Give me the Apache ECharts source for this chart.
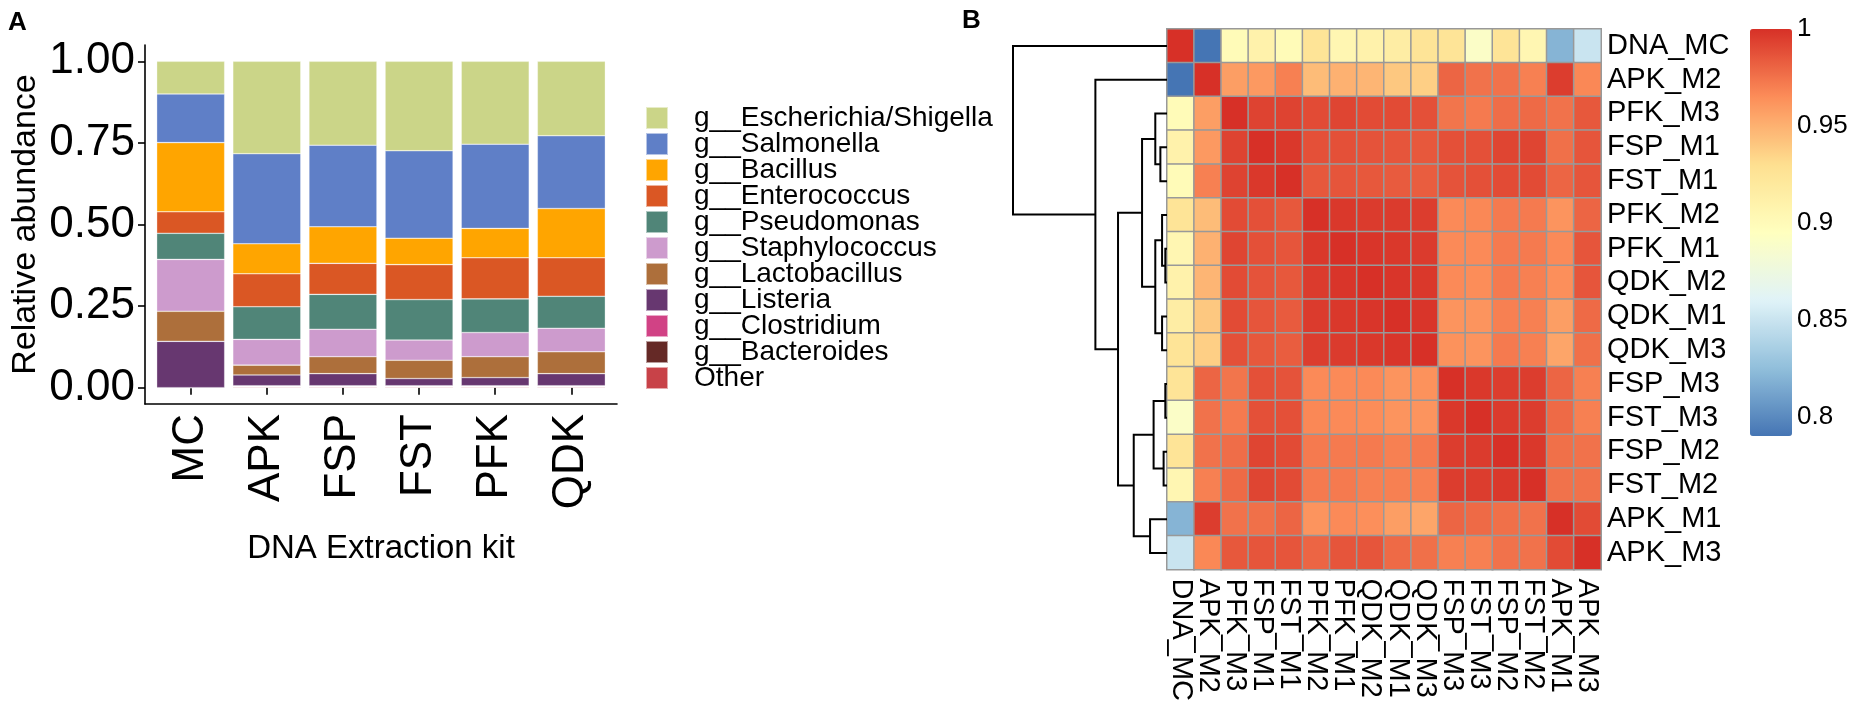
<!DOCTYPE html>
<html><head><meta charset="utf-8">
<script src="https://cdn.jsdelivr.net/npm/echarts@6/dist/echarts.min.js"></script>
<style>html,body{margin:0;padding:0;background:#fff}#c{width:1851px;height:704px}</style>
</head><body><div id="c"></div>
<script>
// ---------- Panel A data ----------
const kits = ['MC', 'APK', 'FSP', 'FST', 'PFK', 'QDK'];
const genera = ['g__Escherichia/Shigella', 'g__Salmonella', 'g__Bacillus', 'g__Enterococcus', 'g__Pseudomonas',
  'g__Staphylococcus', 'g__Lactobacillus', 'g__Listeria', 'g__Clostridium', 'g__Bacteroides', 'Other'];
const generaColors = ['#CBD588', '#5F7FC7', '#FFA500', '#DA5724', '#508578', '#CD9BCD', '#AD6F3B', '#673770', '#D14285', '#652926', '#C84248'];
const escherichia = [0.100, 0.283, 0.257, 0.274, 0.254, 0.228];
const salmonella = [0.149, 0.276, 0.250, 0.268, 0.258, 0.223];
const bacillus = [0.212, 0.092, 0.112, 0.081, 0.090, 0.151];
const enterococcus = [0.066, 0.101, 0.095, 0.107, 0.126, 0.118];
const pseudomonas = [0.080, 0.100, 0.107, 0.124, 0.103, 0.098];
const staphylococcus = [0.159, 0.079, 0.084, 0.062, 0.074, 0.072];
const lactobacillus = [0.092, 0.030, 0.052, 0.056, 0.064, 0.067];
const listeria = [0.142, 0.033, 0.037, 0.022, 0.025, 0.037];
const clostridium = [0, 0.002, 0.002, 0.002, 0.002, 0.002];
const bacteroides = [0, 0.002, 0.002, 0.002, 0.002, 0.002];
const other = [0, 0.002, 0.002, 0.002, 0.002, 0.002];
const generaValues = [escherichia, salmonella, bacillus, enterococcus, pseudomonas, staphylococcus,
  lactobacillus, listeria, clostridium, bacteroides, other];
const yTicksA = [0, 0.25, 0.5, 0.75, 1];

// ---------- Panel B data ----------
const samples = ['DNA_MC', 'APK_M2', 'PFK_M3', 'FSP_M1', 'FST_M1', 'PFK_M2', 'PFK_M1', 'QDK_M2',
  'QDK_M1', 'QDK_M3', 'FSP_M3', 'FST_M3', 'FSP_M2', 'FST_M2', 'APK_M1', 'APK_M3'];
const corrMatrix = [
  [1, .79, .90, .91, .90, .925, .905, .91, .915, .925, .925, .89, .925, .905, .82, .85],
  [.79, 1, .958, .96, .97, .945, .95, .948, .94, .937, .98, .975, .975, .97, .995, .967],
  [.90, .958, 1, .993, .993, .99, .992, .99, .99, .988, .974, .972, .977, .978, .975, .985],
  [.91, .96, .993, 1, .997, .988, .988, .987, .986, .985, .988, .988, .992, .992, .976, .986],
  [.90, .97, .993, .997, 1, .985, .986, .985, .984, .983, .987, .988, .99, .99, .98, .986],
  [.925, .945, .99, .988, .985, 1, .997, .996, .996, .995, .966, .967, .972, .972, .962, .98],
  [.905, .95, .992, .988, .986, .997, 1, .998, .997, .996, .966, .966, .972, .972, .966, .986],
  [.91, .948, .99, .987, .985, .996, .998, 1, .998, .997, .966, .965, .972, .97, .964, .986],
  [.915, .94, .99, .986, .984, .996, .997, .998, 1, .998, .962, .962, .97, .97, .958, .978],
  [.925, .937, .988, .985, .983, .995, .996, .997, .998, 1, .963, .962, .972, .97, .955, .976],
  [.925, .98, .974, .988, .987, .966, .966, .966, .962, .963, 1, .997, .995, .995, .98, .97],
  [.89, .975, .972, .988, .988, .967, .966, .965, .962, .962, .997, 1, .996, .995, .978, .97],
  [.925, .975, .977, .992, .99, .972, .972, .972, .97, .972, .995, .996, 1, .997, .976, .975],
  [.905, .97, .978, .992, .99, .972, .972, .97, .97, .97, .995, .995, .997, 1, .975, .975],
  [.82, .995, .975, .976, .98, .962, .966, .964, .958, .955, .98, .978, .976, .975, 1, .99],
  [.85, .967, .985, .986, .986, .98, .986, .986, .978, .976, .97, .97, .975, .975, .99, 1]
];
// hierarchical clustering tree: [left, right, height]; leaves = row indices
const dendroTree = [0, [1, [[[2, [3, 4, 0.043], 0.076], [[5, [6, 7, 0.011], 0.032], [8, 9, 0.032], 0.076], 0.162],
  [[[10, 11, 0.011], [12, 13, 0.022], 0.087], [14, 15, 0.11], 0.216], 0.318], 0.465], 1.0];
const heatColors = ['#4575B4', '#91BFDB', '#E0F3F8', '#FFFFBF', '#FEE090', '#FC8D59', '#D73027'];
const colorTicks = [0.8, 0.85, 0.9, 0.95, 1];
const colorMin = 0.79, colorMax = 1.0;

// ---------- build ----------
const FONT = 'Liberation Sans, Arial, sans-serif';
const heatData = [];
corrMatrix.forEach((row, r) => row.forEach((v, c) => heatData.push([c, r, v])));
const dendroSegs = [];
function walk(node) {
  if (typeof node === 'number') return { y: node, h: 0 };
  const L = walk(node[0]), R = walk(node[1]), h = node[2];
  dendroSegs.push({ coords: [[L.h, L.y], [h, L.y], [h, R.y], [R.h, R.y]] });
  return { y: (L.y + R.y) / 2, h };
}
walk(dendroTree);

const barSeries = [];
for (let i = genera.length - 1; i >= 0; i--) {
  barSeries.push({
    type: 'bar', name: genera[i], stack: 'total', xAxisIndex: 4, yAxisIndex: 4,
    data: generaValues[i], barWidth: 68,
    itemStyle: { color: generaColors[i], borderColor: 'rgba(255,255,255,0.55)', borderWidth: 0.6 },
    emphasis: { disabled: true }, silent: true
  });
}

const chart = echarts.init(document.getElementById('c'), null, { renderer: 'canvas' });
chart.setOption({
  animation: false,
  backgroundColor: '#fff',
  textStyle: { fontFamily: FONT },
  title: [
    { text: 'A', left: 8, top: 10, padding: 0, textStyle: { fontFamily: FONT, fontSize: 26, fontWeight: 'bold', color: '#000' } },
    { text: 'B', left: 962, top: 8, padding: 0, textStyle: { fontFamily: FONT, fontSize: 26, fontWeight: 'bold', color: '#000' } }
  ],
  grid: [
    { left: 145, width: 472, top: 45, height: 359 },      // panel A frame (axis lines)
    { left: 1167, width: 434, top: 29, height: 541 },     // heatmap
    { left: 1013, width: 154, top: 29, height: 541 },     // dendrogram
    { left: 1750, width: 42, top: 29, height: 407 },      // colour bar labels
    { left: 152.6, width: 456.8, top: 45, height: 359 }   // panel A bars
  ],
  legend: {
    data: genera, orient: 'vertical', left: 645, top: 104, padding: 0,
    itemWidth: 22, itemHeight: 22, itemGap: -2, icon: 'rect', selectedMode: false,
    textStyle: { fontFamily: FONT, fontSize: 28, color: '#000', padding: [0, 0, 0, 21] }
  },
  xAxis: [
    { gridIndex: 0, type: 'value', min: 0, max: 1, splitLine: { show: false },
      axisLine: { onZero: false, lineStyle: { color: '#000', width: 1.6 } },
      axisTick: { show: false }, axisLabel: { show: false },
      name: 'DNA Extraction kit', nameLocation: 'middle', nameGap: 128,
      nameTextStyle: { fontSize: 33, color: '#000', fontFamily: FONT } },
    { gridIndex: 1, type: 'category', data: samples, position: 'bottom',
      axisLine: { show: false }, axisTick: { show: false },
      axisLabel: { rotate: -90, fontSize: 29, color: '#000', margin: 9, fontFamily: FONT, interval: 0 } },
    { gridIndex: 2, type: 'value', min: 0, max: 1, inverse: true, show: false },
    { gridIndex: 3, type: 'value', min: 0, max: 1, show: false },
    { gridIndex: 4, type: 'category', data: kits,
      axisLine: { show: false },
      axisTick: { show: true, alignWithLabel: true, length: 7, lineStyle: { color: '#000', width: 1.6 } },
      axisLabel: { rotate: 90, fontSize: 44, color: '#000', margin: 10, fontFamily: FONT, interval: 0 } }
  ],
  yAxis: [
    { gridIndex: 0, type: 'value', min: -0.05, max: 1.05,
      splitLine: { show: false },
      axisLine: { show: true, lineStyle: { color: '#000', width: 1.6 } },
      axisTick: { show: true, length: 7, customValues: yTicksA, lineStyle: { color: '#000', width: 1.6 } },
      axisLabel: { customValues: yTicksA, formatter: v => Number(v).toFixed(2), fontSize: 44, color: '#000', margin: 10, fontFamily: FONT },
      name: 'Relative abundance', nameLocation: 'middle', nameGap: 102, nameRotate: 90,
      nameTextStyle: { fontSize: 34, color: '#000', fontFamily: FONT } },
    { gridIndex: 1, type: 'category', data: samples, inverse: true, position: 'right',
      axisLine: { show: false }, axisTick: { show: false },
      axisLabel: { fontSize: 29, color: '#000', margin: 6, fontFamily: FONT, interval: 0 } },
    { gridIndex: 2, type: 'value', min: -0.5, max: samples.length - 0.5, inverse: true, show: false },
    { gridIndex: 3, type: 'value', min: colorMin, max: colorMax, position: 'right',
      splitLine: { show: false }, axisLine: { show: false }, axisTick: { show: false },
      axisLabel: { customValues: colorTicks, formatter: v => String(+Number(v).toFixed(2)), fontSize: 26, color: '#000', margin: 5, fontFamily: FONT } },
    { gridIndex: 4, type: 'value', min: -0.05, max: 1.05, show: false }
  ],
  visualMap: {
    type: 'continuous', min: colorMin, max: colorMax, seriesIndex: genera.length,
    calculable: false, left: 1750, top: 29, itemWidth: 42, itemHeight: 407, padding: 0,
    inRange: { color: heatColors }, textStyle: { fontSize: 1, color: 'rgba(0,0,0,0)' }, text: null, hoverLink: false
  },
  series: [
    ...barSeries,
    { type: 'heatmap', xAxisIndex: 1, yAxisIndex: 1, data: heatData,
      itemStyle: { borderColor: '#999999', borderWidth: 1.5 }, emphasis: { disabled: true }, silent: true },
    { type: 'lines', coordinateSystem: 'cartesian2d', xAxisIndex: 2, yAxisIndex: 2, polyline: true,
      data: dendroSegs, lineStyle: { color: '#000', width: 2, opacity: 1 }, silent: true }
  ]
});
</script></body></html>
